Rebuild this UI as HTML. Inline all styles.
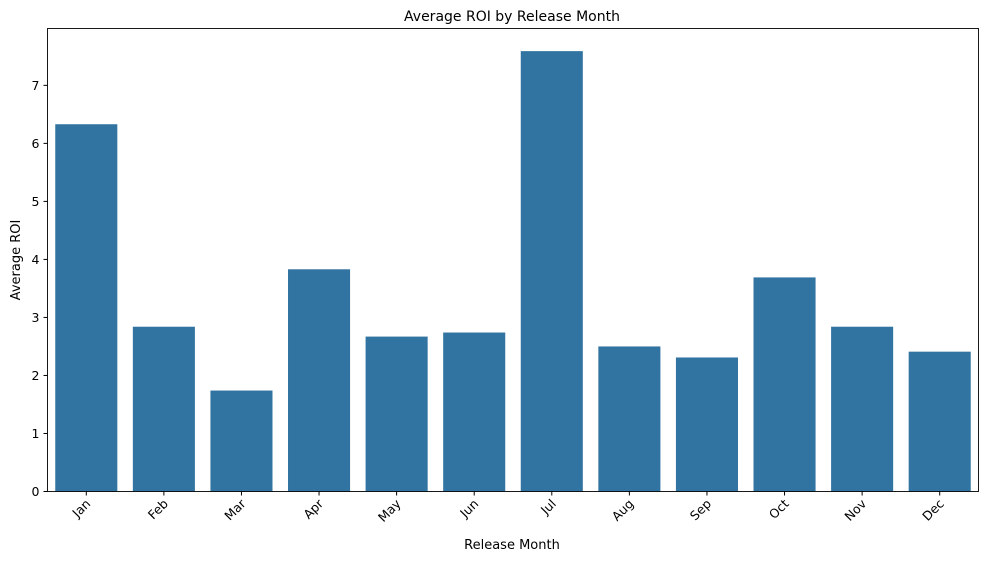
<!DOCTYPE html>
<html><head><meta charset="utf-8"><style>
body{margin:0;background:#fff;font-family:"DejaVu Sans","Liberation Sans",sans-serif;}
svg text{font-family:"DejaVu Sans","Liberation Sans",sans-serif;fill:#000;}
</style></head><body>
<svg id="chart" width="988" height="561">
<text x="512" y="21" font-size="14" text-anchor="middle">Average ROI by Release Month</text>
<g id="bars"></g>
<g id="yaxis"></g>
<g id="xaxis"></g>
<rect x="47.5" y="28.5" width="931" height="463" fill="none" stroke="#000" stroke-width="0.9"/>
<text x="512" y="549" font-size="13" text-anchor="middle">Release Month</text>
<text transform="translate(20,260) rotate(-90)" font-size="13" text-anchor="middle">Average ROI</text>
</svg>
<script>
const months=["Jan","Feb","Mar","Apr","May","Jun","Jul","Aug","Sep","Oct","Nov","Dec"];
const roiValues=[6.33,2.84,1.74,3.83,2.67,2.74,7.59,2.5,2.31,3.69,2.84,2.41];
const yTicks=[0,1,2,3,4,5,6,7];
const NS="http://www.w3.org/2000/svg";
const L=47.5,R=978.5,T=28.5,B=491.5,YMAX=7.98;
const y=v=>B-(v/YMAX)*(B-T);
const bw=(R-L)/months.length;
const x=i=>L+bw*i;
function mk(tag,attrs,parent){const e=document.createElementNS(NS,tag);for(const k in attrs)e.setAttribute(k,attrs[k]);parent.appendChild(e);return e;}
const bars=document.getElementById('bars'),xa=document.getElementById('xaxis'),ya=document.getElementById('yaxis');
months.forEach((m,i)=>{
 const r=mk('rect',{x:x(i)+bw*0.1,y:y(roiValues[i]),width:bw*0.8,height:B-y(roiValues[i]),fill:'#3274a1'},bars);
 
 
 const cx=x(i)+bw/2;
 const tk=mk('line',{x1:cx,x2:cx,y1:B,y2:B+4,stroke:'#000'},xa);
 
 
 const t=mk('text',{'font-size':12.5,'text-anchor':'end',transform:`translate(${cx+5},${B+13}) rotate(-45)`},xa);
 t.textContent=m;
 
 
});
yTicks.forEach(v=>{
 const tk=mk('line',{x1:L-4,x2:L,y1:y(v),y2:y(v),stroke:'#000'},ya);
 
 
 const t=mk('text',{x:L-8,y:y(v)+4.5,'font-size':12.5,'text-anchor':'end'},ya);
 t.textContent=v;
 
 
});
</script>
</body></html>
